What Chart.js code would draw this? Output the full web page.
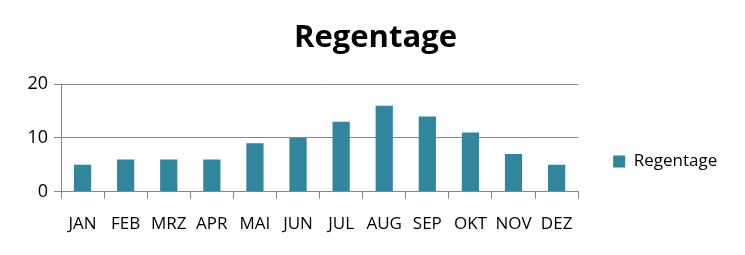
<!DOCTYPE html>
<html><head><meta charset="utf-8">
<script src="https://cdn.jsdelivr.net/npm/chart.js@4"></script>
<style>html,body{margin:0;padding:0;background:#fff}#w{width:745px;height:255px}</style>
</head><body><div id="w"><canvas id="c"></canvas></div>
<script>
const categories = ["JAN","FEB","MRZ","APR","MAI","JUN","JUL","AUG","SEP","OKT","NOV","DEZ"];
const regentage = [5,6,6,6,9,10,13,16,14,11,7,5];
const yTicks = [0,10,20];
const gridColor = '#868686';
const font = "'Open Sans', 'DejaVu Sans', sans-serif";
const widenYLabelArea = { id: 'widenYLabelArea', afterLayout(chart) { chart.scales.y.left = 0; } };
new Chart(document.getElementById('c'), {
  type: 'bar',
  data: { labels: categories, datasets: [{ label: 'Regentage', data: regentage, backgroundColor: '#31859C', barPercentage: 0.4, categoryPercentage: 1, yAxisID: 'y' }] },
  plugins: [widenYLabelArea],
  options: {
    responsive: true, maintainAspectRatio: false, animation: false,
    devicePixelRatio: 1,
    layout: { padding: { left: 34, right: 28, top: 0, bottom: 6 } },
    plugins: {
      title: { display: true, text: 'Regentage', color: '#000', font: { family: font, size: 31, weight: 'bold' }, padding: { top: 20, bottom: 27 } },
      legend: { position: 'right',
        title: { display: true, text: '', font: { size: 10, lineHeight: 1 }, padding: { top: 0, bottom: 64 } },
        labels: { boxWidth: 12, boxHeight: 12, color: '#000', font: { family: font, size: 17 }, padding: 10 } },
      tooltip: { enabled: false }
    },
    scales: {
      x: {
        grid: { drawOnChartArea: false, drawTicks: true, tickLength: 7, color: gridColor },
        border: { color: gridColor },
        ticks: { color: '#000', font: { family: font, size: 17 }, padding: 15, maxRotation: 0 }
      },
      y: {
        min: 0, max: 20,
        afterBuildTicks: s => { s.ticks = yTicks.map(v => ({ value: v })); },
        afterFit: s => { s.width = 27; },
        grid: { color: gridColor, tickLength: 7 },
        border: { color: gridColor },
        ticks: { color: '#000', font: { family: font, size: 18 }, padding: 6 }
      },
      yR: {
        position: 'right', display: true,
        afterFit: s => { s.width = 25; },
        grid: { display: false, drawTicks: false },
        border: { display: false },
        ticks: { display: false }
      }
    }
  }
});
</script></body></html>
